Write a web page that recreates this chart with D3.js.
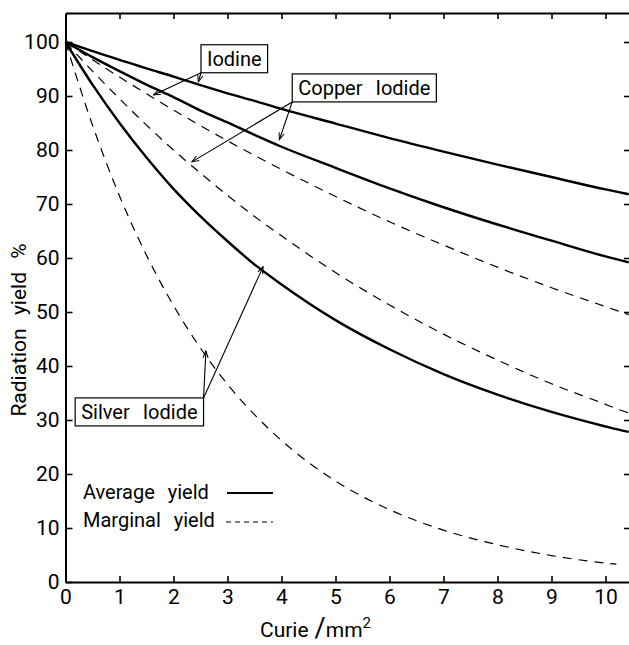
<!DOCTYPE html>
<html>
<head>
<meta charset="utf-8">
<script src="https://cdn.jsdelivr.net/npm/d3@7"></script>
<style>
  body { margin: 0; background: #fff; }
  text { font-family: Roboto, "DejaVu Sans", sans-serif; fill: #000; }
</style>
</head>
<body>
<svg id="chart"></svg>
<script>
// --- data (Curie/mm2 vs radiation yield %) ---
const curie = [0, 0.5, 1, 1.5, 2, 2.5, 3, 3.5, 4, 5, 6, 7, 8, 9, 10, 10.2, 10.43];

const iodineAverage  = [100, 98.3, 96.7, 95.1, 93.6, 92.0, 90.5, 89.1, 87.6, 84.9, 82.2, 79.7, 77.3, 75.0, 72.7, 72.3, 71.8];
const iodineMarginal = [100, 96.7, 93.5, 90.4, 87.4, 84.5, 81.7, 79.0, 76.4, 71.4, 66.7, 62.4, 58.3, 54.5, 51.0, 50.3, 49.5];
const copperAverage  = [100, 97.2, 94.6, 92.1, 89.8, 87.3, 85.1, 82.8, 80.6, 76.7, 72.9, 69.4, 66.2, 63.2, 60.3, 59.8, 59.2];
const copperMarginal = [100, 94.6, 89.5, 84.6, 80.0, 75.7, 71.6, 67.7, 64.1, 57.3, 51.3, 45.9, 41.1, 36.7, 32.9, 32.1, 31.3];
const silverAverage  = [100, 92.1, 85.0, 78.6, 72.8, 67.7, 63.1, 58.8, 55.1, 48.5, 43.1, 38.5, 34.7, 31.5, 28.8, 28.3, 27.8];
const silverMarginal = [100, 84.6, 71.5, 60.5, 51.2, 43.3, 36.6, 31.0, 26.2, 18.7, 13.4, 9.6, 6.9, 4.9, 3.5, 3.3, null];

const xTicks = [0, 1, 2, 3, 4, 5, 6, 7, 8, 9, 10];
const yTicks = [0, 10, 20, 30, 40, 50, 60, 70, 80, 90, 100];

const legendLabels = ["Average yield", "Marginal yield"];

// boxed labels: text, text anchor (data), corner the arrows leave from, arrow tips (data)
const labelTexts   = ["Iodine", "Copper Iodide", "Silver Iodide"];
const labelAnchors = [[2.62, 95.6], [4.31, 90.2], [0.29, 30.2]];
const labelCorners = ["bl", "bl", "tr"];
const labelArrows  = [
  [[1.63, 90.2], [2.46, 92.6]],
  [[2.34, 77.8], [3.96, 81.9]],
  [[2.60, 42.8], [3.66, 58.4]]
];

// --- layout ---
const W = 629, H = 645;
const plotLeft = 65.5, plotRight = 629, plotTop = 13, plotBottom = 582;

const svg = d3.select("#chart").attr("width", W).attr("height", H);

const x = d3.scaleLinear().domain([0, 10.435]).range([plotLeft, plotRight]);
const y = d3.scaleLinear().domain([0, 105.37]).range([plotBottom, plotTop]);

svg.append("defs").append("marker")
  .attr("id", "head")
  .attr("markerUnits", "userSpaceOnUse")
  .attr("viewBox", "-9 -5 10 10")
  .attr("markerWidth", 10).attr("markerHeight", 10)
  .attr("refX", 0).attr("refY", 0)
  .attr("orient", "auto")
  .append("path")
  .attr("d", "M-7,-2.6L0,0L-7,2.6")
  .attr("fill", "none").attr("stroke", "#000").attr("stroke-width", 1);

// --- axes (ticks point inwards) ---
svg.append("g")
  .attr("transform", `translate(0,${plotBottom})`)
  .call(d3.axisBottom(x).tickValues(xTicks).tickSize(-6).tickSizeOuter(0).tickPadding(7).tickFormat(d3.format("d")));

svg.append("g")
  .attr("transform", `translate(${plotLeft},0)`)
  .call(d3.axisLeft(y).tickValues(yTicks).tickSize(-7).tickSizeOuter(0).tickPadding(6).tickFormat(d3.format("d")));

svg.append("g")
  .attr("transform", `translate(0,${plotTop})`)
  .call(d3.axisTop(x).tickValues(xTicks.slice(1)).tickSize(-6).tickSizeOuter(0).tickFormat(""));

const rightAxis = svg.append("g")
  .attr("transform", `translate(${plotRight},0)`)
  .call(d3.axisRight(y).tickValues(yTicks.slice(1)).tickSize(-5).tickFormat(""));
rightAxis.select(".domain").remove();

svg.selectAll(".domain").attr("stroke", "#000").attr("stroke-width", 2);
svg.selectAll(".tick line").attr("stroke", "#000").attr("stroke-width", 1.6);
svg.selectAll(".tick text").style("font-size", "21px").style("font-family", "Roboto, sans-serif");

// axis titles
svg.append("text")
  .attr("transform", "translate(26,330) rotate(-90)")
  .attr("text-anchor", "middle")
  .style("font-size", "21px")
  .style("word-spacing", "8px")
  .text("Radiation yield %");

const xTitle = svg.append("text")
  .attr("x", 260).attr("y", 637)
  .style("font-size", "21px");
xTitle.append("tspan").text("Curie");
xTitle.append("tspan").attr("dx", 6).style("font-size", "27px").text("/");
xTitle.append("tspan").text("mm");
xTitle.append("tspan").attr("dy", -9).style("font-size", "15px").text("2");

// --- curves ---
const series = [
  { values: iodineAverage, dashed: false },
  { values: copperAverage, dashed: false },
  { values: silverAverage, dashed: false },
  { values: iodineMarginal, dashed: true },
  { values: copperMarginal, dashed: true },
  { values: silverMarginal, dashed: true }
];

const line = d3.line()
  .defined(d => d[1] != null)
  .x(d => x(d[0]))
  .y(d => y(d[1]))
  .curve(d3.curveMonotoneX);

svg.append("g").selectAll("path")
  .data(series)
  .join("path")
  .attr("d", s => line(curie.map((c, i) => [c, s.values[i]])))
  .attr("fill", "none")
  .attr("stroke", "#000")
  .attr("stroke-width", s => s.dashed ? 1.2 : 2.4)
  .attr("stroke-dasharray", s => s.dashed ? "9,7" : null);

// --- boxed labels with arrows ---
labelTexts.forEach((t, i) => {
  const g = svg.append("g");
  const txt = g.append("text")
    .attr("x", x(labelAnchors[i][0]))
    .attr("y", y(labelAnchors[i][1]))
    .style("font-size", "20px")
    .style("word-spacing", "8px")
    .text(t);
  const b = txt.node().getBBox();
  const bx = b.x - 6, by = b.y - 2, bw = b.width + 12, bh = b.height + 4;
  g.insert("rect", "text")
    .attr("x", bx).attr("y", by).attr("width", bw).attr("height", bh)
    .attr("fill", "#fff").attr("stroke", "#000").attr("stroke-width", 1.2);
  const c = labelCorners[i];
  const sx = c[1] === "l" ? bx : bx + bw;
  const sy = c[0] === "t" ? by : by + bh;
  labelArrows[i].forEach(tip => {
    g.append("line")
      .attr("x1", sx).attr("y1", sy)
      .attr("x2", x(tip[0])).attr("y2", y(tip[1]))
      .attr("stroke", "#000").attr("stroke-width", 1.1)
      .attr("marker-end", "url(#head)");
  });
});

// --- legend ---
const legend = svg.append("g").selectAll("g")
  .data(legendLabels)
  .join("g")
  .attr("transform", (d, i) => `translate(83,${499 + i * 28})`);

legend.append("text")
  .style("font-size", "20px")
  .style("word-spacing", "8px")
  .text(d => d);

legend.append("line")
  .attr("x1", (d, i) => i === 0 ? 227 - 83 : 226 - 83)
  .attr("x2", 273 - 83)
  .attr("y1", (d, i) => i === 0 ? -6 : -5)
  .attr("y2", (d, i) => i === 0 ? -6 : -5)
  .attr("stroke", "#000")
  .attr("stroke-width", (d, i) => i === 0 ? 2.2 : 1)
  .attr("stroke-dasharray", (d, i) => i === 0 ? null : "5,4");
</script>
</body>
</html>
